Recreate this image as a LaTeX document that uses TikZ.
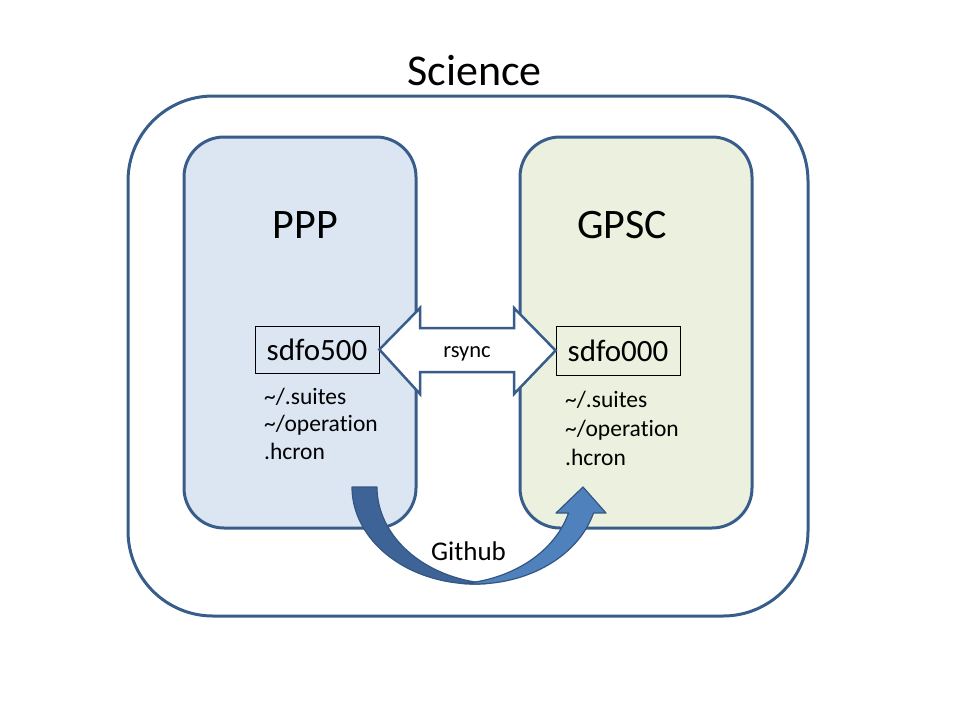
\documentclass[tikz,border=0pt]{standalone}
\usepackage{fontspec}
\setmainfont{Carlito}[Ligatures={NoCommon}, RawFeature={-liga;-clig}]
\usetikzlibrary{calc}
\definecolor{frameblue}{RGB}{56,93,138}
\definecolor{pppfill}{RGB}{220,230,242}
\definecolor{gpscfill}{RGB}{235,241,222}
\definecolor{banddark}{RGB}{62,99,150}
\definecolor{bandlight}{RGB}{79,129,189}
\definecolor{bandline}{RGB}{52,86,130}
\tikzset{
  bigbox/.style={draw=frameblue, line width=3pt, rounded corners=40pt, inner sep=0pt},
  hostbox/.style={draw=black, line width=0.8pt, inner sep=0pt, minimum width=124pt, font=\fontsize{31}{34}\selectfont},
  title/.style={font=\fontsize{42}{48}\selectfont, anchor=base, inner sep=0pt},
  listtxt/.style={font=\fontsize{23.5}{28}\selectfont, anchor=base west, inner sep=0pt},
  blockarrow/.style={draw=frameblue, line width=2.5pt, fill=white, line join=miter},
  band/.style={draw=bandline, line width=1.2pt, line join=round}
}
\begin{document}
\begin{tikzpicture}[x=1pt,y=-1pt]
\useasboundingbox (0,0) rectangle (960,720);
\fill[white] (0,0) rectangle (960,720);

% outer frame
\node[draw=frameblue, line width=3pt, rounded corners=85pt, fill=white, minimum width=680pt, minimum height=520pt, inner sep=0pt] (science) at (468,356) {};
\node[title, font=\fontsize{44}{50}\selectfont] (sciencelbl) at (474.5,85) {Science};

% inner boxes
\node[bigbox, fill=pppfill, minimum width=232pt, minimum height=391pt] (ppp) at (300,332.5) {};
\node[bigbox, fill=gpscfill, minimum width=232pt, minimum height=391pt] (gpsc) at (636,332.5) {};
\node[title] (ppplbl) at (305.5,238) {PPP};
\node[title] (gpsclbl) at (622,238) {GPSC};

% host boxes
\node[hostbox, minimum height=47pt] (s500) at (317,349.5) {sdfo500};
\node[hostbox, minimum height=49pt] (s000) at (618,350.5) {sdfo000};

% file lists
\node[listtxt] (p1) at (264,404) {\textasciitilde/.suites};
\node[listtxt] (p2) at (264,431.5) {\textasciitilde/operation};
\node[listtxt] (p3) at (264,459) {.hcron};
\node[listtxt] (g1) at (565,407) {\textasciitilde/.suites};
\node[listtxt] (g2) at (565,436) {\textasciitilde/operation};
\node[listtxt] (g3) at (565,465) {.hcron};

% rsync double arrow
\draw[blockarrow] (s500.east) -- (420,308) -- (420,328) -- (514,328) -- (514,308)
  -- (s000.west) -- (514,394) -- (514,372) -- (420,372) -- (420,394) -- cycle;
\node[font=\fontsize{22.5}{26}\selectfont, anchor=base, inner sep=0pt] (rsync) at (467,357) {rsync};

% Github curved arrow
\draw[band, fill=banddark] (352,487)
  arc[start angle=180, end angle=84.17, x radius=123, y radius=97]
  arc[start angle=95.83, end angle=180, x radius=123, y radius=97] -- cycle;
\draw[band, fill=bandlight] (462.5,583.5)
  arc[start angle=95.83, end angle=15.5, x radius=123, y radius=97]
  -- (606,513) -- (583,487) -- (556,513) -- (568.5,513)
  arc[start angle=15.5, end angle=84.17, x radius=123, y radius=97] -- cycle;
\node[font=\fontsize{27}{31}\selectfont, anchor=base, inner sep=0pt] (github) at (468.5,560) {Github};
\end{tikzpicture}
\end{document}
